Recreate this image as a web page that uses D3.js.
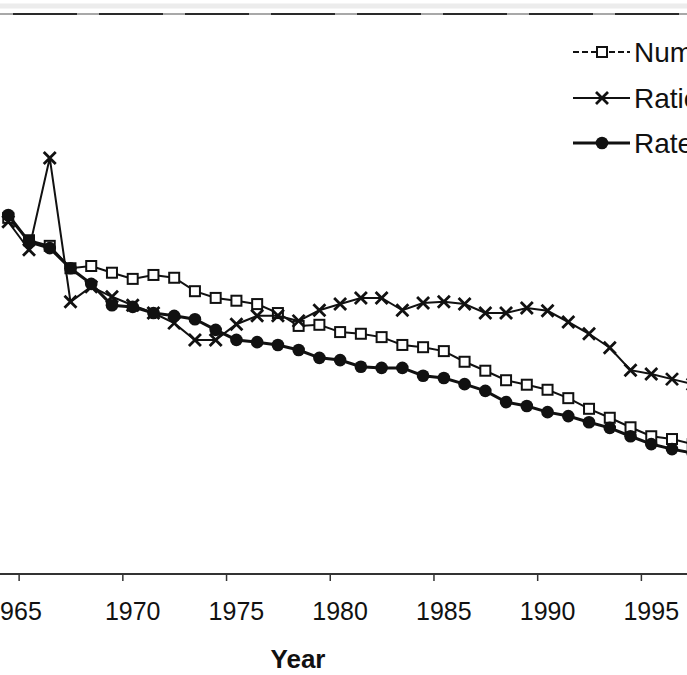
<!DOCTYPE html>
<html>
<head>
<meta charset="utf-8">
<script src="https://cdn.jsdelivr.net/npm/d3@7"></script>
<style>
  html, body { margin: 0; padding: 0; background: #fff; overflow: hidden; }
  svg { display: block; }
  text { font-family: "Liberation Sans", Arial, sans-serif; fill: #111; }
</style>
</head>
<body>
<script>
// ---- data (arbitrary units, no y axis visible) ----
const years = [1964, 1965, 1966, 1967, 1968, 1969, 1970, 1971, 1972, 1973, 1974, 1975,
  1976, 1977, 1978, 1979, 1980, 1981, 1982, 1983, 1984, 1985, 1986, 1987, 1988,
  1989, 1990, 1991, 1992, 1993, 1994, 1995, 1996, 1997];

const numberSeries = [63.6, 59.6, 58.6, 54.6, 55.0, 53.8, 52.7, 53.4, 52.9, 50.5, 49.3, 48.8,
  48.2, 46.6, 44.3, 44.5, 43.2, 42.9, 42.3, 40.9, 40.5, 39.8, 37.9, 36.3, 34.6,
  33.8, 32.9, 31.4, 29.5, 27.9, 26.2, 24.6, 24.1, 23.2];

const ratioSeries = [62.9, 57.9, 74.3, 48.6, 51.3, 49.5, 48.0, 46.6, 44.8, 41.8, 41.8, 44.6,
  46.1, 46.1, 45.2, 47.1, 48.2, 49.3, 49.3, 47.1, 48.4, 48.6, 48.2, 46.6, 46.6,
  47.5, 47.0, 45.0, 42.9, 40.4, 36.4, 35.7, 34.8, 33.9];

const rateSeries = [64.1, 59.3, 58.2, 54.6, 51.8, 48.0, 47.7, 46.6, 46.1, 45.5, 43.6, 41.8,
  41.4, 40.9, 40.0, 38.6, 38.2, 37.0, 36.8, 36.8, 35.4, 35.0, 33.9, 32.7, 30.7,
  30.0, 28.9, 28.2, 27.1, 26.1, 24.6, 23.2, 22.3, 21.6];

const tickYears = [1965, 1970, 1975, 1980, 1985, 1990, 1995];
const tickLabels = ["1965", "1970", "1975", "1980", "1985", "1990", "1995"];
const legendLabels = ["Number", "Ratio", "Rate"];
const xTitle = "Year";

// ---- layout ----
const W = 687, H = 675;
const svg = d3.select("body").append("svg").attr("width", W).attr("height", H);

const x = d3.scaleLinear().domain([1965, 1996]).range([29, 672]);
const y = d3.scaleLinear().domain([0, 100]).range([574, 14]);
const axisY = 574;

// top cut-off rule (bottom of a panel above)
svg.append("line").attr("x1", 0).attr("x2", W).attr("y1", 6).attr("y2", 6)
  .attr("stroke", "#ececec").attr("stroke-width", 5);
svg.append("line").attr("x1", 0).attr("x2", W).attr("y1", 14).attr("y2", 14)
  .attr("stroke", "#a8a8a8").attr("stroke-width", 2);
svg.append("line").attr("x1", 0).attr("x2", W).attr("y1", 14).attr("y2", 14)
  .attr("stroke", "#2a2a2a").attr("stroke-width", 2)
  .attr("stroke-dasharray", "64,22").attr("stroke-dashoffset", -13);

// x axis
const xAxis = d3.axisBottom(x)
  .tickValues(tickYears.map(v => v - 0.5))
  .tickSize(7)
  .tickFormat(() => "");
const gx = svg.append("g").attr("transform", `translate(0,${axisY})`).call(xAxis);
gx.select(".domain").attr("d", `M0,0H${W}`).attr("stroke", "#333").attr("stroke-width", 2);
gx.selectAll(".tick line").attr("stroke", "#333").attr("stroke-width", 1.5);

svg.append("g").selectAll("text").data(tickYears).join("text")
  .attr("x", (d, i) => i === 0 ? x(d) - 15 : x(d))
  .attr("y", 620)
  .attr("text-anchor", "middle")
  .style("font-size", "25px")
  .text((d, i) => tickLabels[i]);

svg.append("text").attr("x", 298).attr("y", 668)
  .attr("text-anchor", "middle")
  .style("font-size", "26px").style("font-weight", "bold")
  .text(xTitle);

// ---- series ----
function seriesData(vals) { return years.map((yr, i) => ({ yr, v: vals[i] })); }
const line = d3.line().x(d => x(d.yr)).y(d => y(d.v));

const plot = svg.append("g");

function drawSquares(g, pts, size) {
  g.selectAll("rect").data(pts).join("rect")
    .attr("x", d => d[0] - size / 2).attr("y", d => d[1] - size / 2)
    .attr("width", size).attr("height", size)
    .attr("fill", "#fff").attr("stroke", "#111").attr("stroke-width", 2);
}
function drawCrosses(g, pts, s) {
  g.selectAll("path").data(pts).join("path")
    .attr("d", d => `M${d[0]-s},${d[1]-s}L${d[0]+s},${d[1]+s}M${d[0]-s},${d[1]+s}L${d[0]+s},${d[1]-s}`)
    .attr("stroke", "#111").attr("stroke-width", 2.8).attr("fill", "none");
}
function drawDots(g, pts, r) {
  g.selectAll("circle").data(pts).join("circle")
    .attr("cx", d => d[0]).attr("cy", d => d[1]).attr("r", r)
    .attr("fill", "#111");
}

// Number (hollow squares)
const sNum = seriesData(numberSeries);
plot.append("path").datum(sNum).attr("d", line)
  .attr("fill", "none").attr("stroke", "#111").attr("stroke-width", 2);
drawSquares(plot.append("g"), sNum.map(d => [x(d.yr), y(d.v)]), 10);

// Ratio (crosses)
const sRatio = seriesData(ratioSeries);
plot.append("path").datum(sRatio).attr("d", line)
  .attr("fill", "none").attr("stroke", "#111").attr("stroke-width", 2);
drawCrosses(plot.append("g"), sRatio.map(d => [x(d.yr), y(d.v)]), 6);

// Rate (filled circles)
const sRate = seriesData(rateSeries);
plot.append("path").datum(sRate).attr("d", line)
  .attr("fill", "none").attr("stroke", "#111").attr("stroke-width", 3);
drawDots(plot.append("g"), sRate.map(d => [x(d.yr), y(d.v)]), 6.3);

// ---- legend ----
const legY = [52, 98, 143];
const lg = svg.append("g");
// Number
lg.append("line").attr("x1", 573).attr("x2", 630).attr("y1", legY[0]).attr("y2", legY[0])
  .attr("stroke", "#111").attr("stroke-width", 2).attr("stroke-dasharray", "6,3");
drawSquares(lg.append("g"), [[602, legY[0]]], 10);
// Ratio
lg.append("line").attr("x1", 573).attr("x2", 630).attr("y1", legY[1]).attr("y2", legY[1])
  .attr("stroke", "#111").attr("stroke-width", 2);
drawCrosses(lg.append("g"), [[602, legY[1]]], 6);
// Rate
lg.append("line").attr("x1", 573).attr("x2", 630).attr("y1", legY[2]).attr("y2", legY[2])
  .attr("stroke", "#111").attr("stroke-width", 3);
drawDots(lg.append("g"), [[602, legY[2]]], 6.3);

lg.selectAll("text.leg").data(legendLabels).join("text")
  .attr("class", "leg")
  .attr("x", 634).attr("y", (d, i) => legY[i] + 10)
  .style("font-size", "28px")
  .text(d => d);
</script>
</body>
</html>
